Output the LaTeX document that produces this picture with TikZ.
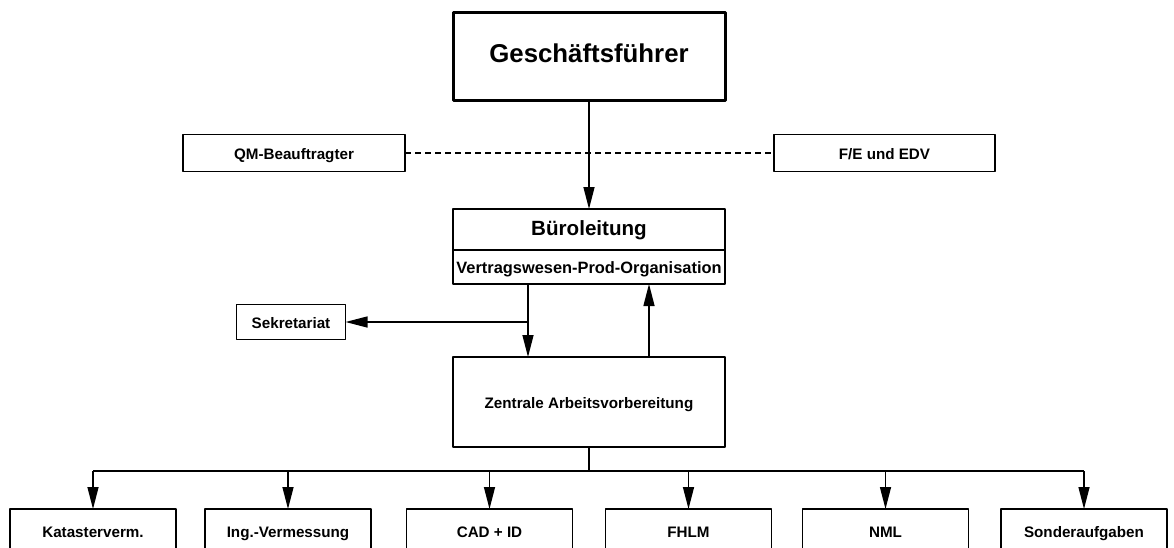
\documentclass[tikz,border=0pt]{standalone}
\usepackage{fontspec}
\setmainfont{Liberation Sans}
\usetikzlibrary{arrows.meta}
\begin{document}
\begin{tikzpicture}[x=0.5pt, y=-0.5pt, line join=round,
    box/.style={draw, line width=0.8pt, inner sep=0pt, outer sep=0pt, minimum height=18.5pt, text height=1.55ex, text depth=0.35ex, font=\fontsize{7.6}{9}\selectfont\bfseries},
    bigbox/.style={box, minimum width=136pt},
    unitbox/.style={box, minimum width=83pt, minimum height=22pt},
    arr/.style={line width=0.7pt, -{Triangle[length=11pt,width=5.5pt]}}]
  \clip (0,0) rectangle (1174,547);
  \useasboundingbox (0,0) rectangle (1174,547);
  % Leitung
  \node[bigbox, line width=1.5pt, minimum height=44pt, font=\fontsize{12.9}{15}\selectfont\bfseries] (gf) at (589,56) {Geschäftsführer};
  \node[box, minimum width=111pt] (qm) at (294,153) {QM-Beauftragter};
  \node[box, minimum width=110.5pt] (fe) at (884.5,153) {F/E und EDV};
  \node[bigbox, minimum height=20.5pt, font=\fontsize{10.3}{12}\selectfont\bfseries] (bl) at (589,229.5) {Büroleitung};
  \node[bigbox, minimum height=17pt, font=\fontsize{8.2}{10}\selectfont\bfseries] (vpo) at (589,267) {Vertragswesen-Prod-Organisation};
  \node[box, minimum width=54.5pt, minimum height=17.5pt] (sek) at (291,322) {Sekretariat};
  \node[bigbox, minimum height=45pt] (zav) at (589,402) {Zentrale Arbeitsvorbereitung};
  % Abteilungen
  \node[unitbox] (kat) at (93,531) {Katasterverm.};
  \node[unitbox] (ing) at (288,531) {Ing.-Vermessung};
  \node[unitbox] (cad) at (489.5,531) {CAD + ID};
  \node[unitbox] (fhlm) at (688.5,531) {FHLM};
  \node[unitbox] (nml) at (885.5,531) {NML};
  \node[unitbox] (son) at (1084,531) {Sonderaufgaben};
  % Verbindungen
  \draw[dashed, dash pattern=on 3pt off 2pt, line width=0.7pt] (qm.east) -- (fe.west);
  \draw[arr] (gf.south) -- (bl.north);
  \draw[arr] ([xshift=-30.5pt]vpo.south) -- ([xshift=-30.5pt]zav.north);
  \draw[arr] ([xshift=-30.5pt]vpo.south |- sek.east) -- (sek.east);
  \draw[arr] ([xshift=30pt]zav.north) -- ([xshift=30pt]vpo.south);
  \coordinate (bus) at (589,471);
  \draw[line width=0.7pt] (zav.south) -- (bus);
  \draw[line width=0.7pt] (kat.north |- bus) -- (son.north |- bus);
  \foreach \n in {kat,ing,cad,fhlm,nml,son}
    \draw[arr] (\n.north |- bus) -- (\n.north);
\end{tikzpicture}
\end{document}
